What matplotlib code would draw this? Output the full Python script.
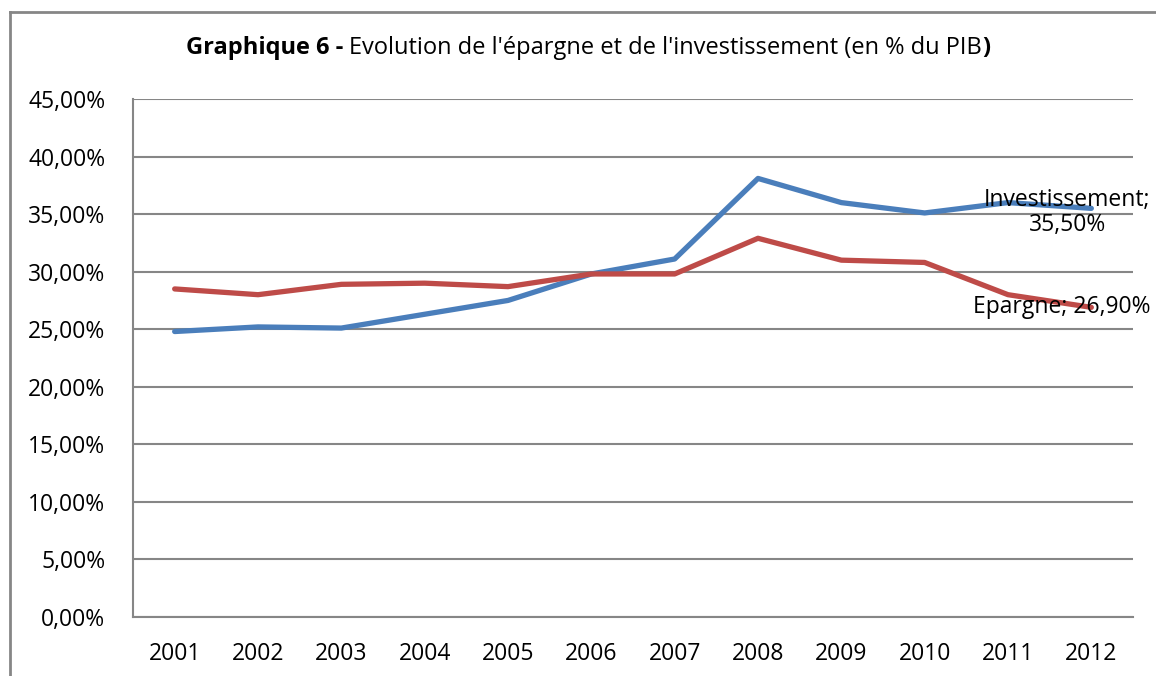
import matplotlib
matplotlib.use('Agg')
import matplotlib.pyplot as plt
from matplotlib.lines import Line2D
from matplotlib.ticker import FuncFormatter

plt.rcParams['font.family'] = ['Open Sans', 'DejaVu Sans']

years = ['2001', '2002', '2003', '2004', '2005', '2006',
         '2007', '2008', '2009', '2010', '2011', '2012']
investissement = [24.8, 25.2, 25.1, 26.3, 27.5, 29.8, 31.1, 38.1, 36.0, 35.1, 36.0, 35.5]
epargne = [28.5, 28.0, 28.9, 29.0, 28.7, 29.8, 29.8, 32.9, 31.0, 30.8, 28.0, 26.9]

W, H = 1156, 676
fig = plt.figure(figsize=(W / 100, H / 100), dpi=100)
ax = fig.add_axes([133 / W, 1 - 617 / H, 1000 / W, 518 / H])

x = range(len(years))
ax.plot(x, investissement, color='#4A7EBB', lw=3.8, solid_capstyle='round', zorder=3)
ax.plot(x, epargne, color='#BE4B48', lw=3.8, solid_capstyle='round', zorder=3)

ax.set_xlim(-0.5, len(years) - 0.5)
ax.set_ylim(0, 45)
ax.set_yticks(range(0, 46, 5))
ax.yaxis.set_major_formatter(FuncFormatter(lambda v, p: f'{v:.2f}%'.replace('.', ',')))
ax.set_xticks(list(x))
ax.set_xticklabels(years)
ax.tick_params(axis='both', length=0, labelsize=16.5, colors='black')
ax.tick_params(axis='y', pad=20)
ax.tick_params(axis='x', pad=18)
ax.grid(axis='y', color='#868686', lw=1.5)
ax.set_axisbelow(True)
for s in ['top', 'right']:
    ax.spines[s].set_visible(False)
for s in ['left', 'bottom']:
    ax.spines[s].set_color('#868686')
    ax.spines[s].set_linewidth(1.5)

# data labels at the last point
ax.annotate('Investissement;\n35,50%', xy=(len(years) - 1, investissement[-1]),
            xytext=(-17.3, -2.9), textcoords='offset points', fontsize=16.5,
            ha='center', va='center', linespacing=1.05, zorder=4)
ax.annotate('Epargne; 26,90%', xy=(len(years) - 1, epargne[-1]),
            xytext=(-21.6, 0), textcoords='offset points', fontsize=16.5,
            ha='center', va='center', zorder=4)

# title in three pieces (bold / normal / bold), centred as a whole
ty = 1 - 48 / H
parts = [('Graphique 6 - ', 'bold'),
         ("Evolution de l'épargne et de l'investissement (en % du PIB", 'normal'),
         (')', 'bold')]
texts = [fig.text(0, ty, s, fontsize=17, fontweight=w, ha='left', va='center') for s, w in parts]
fig.canvas.draw()
r = fig.canvas.get_renderer()
widths = [t.get_window_extent(r).width for t in texts]
xpos = 588 - sum(widths) / 2
for t, w in zip(texts, widths):
    t.set_x(xpos / W)
    xpos += w

# outer chart frame
fig.add_artist(Line2D([10 / W, 10 / W], [0, 1 - 12 / H], transform=fig.transFigure,
                      color='#868686', lw=2))
fig.add_artist(Line2D([10 / W, 1], [1 - 12 / H, 1 - 12 / H], transform=fig.transFigure,
                      color='#868686', lw=2))

plt.savefig('out.png')
